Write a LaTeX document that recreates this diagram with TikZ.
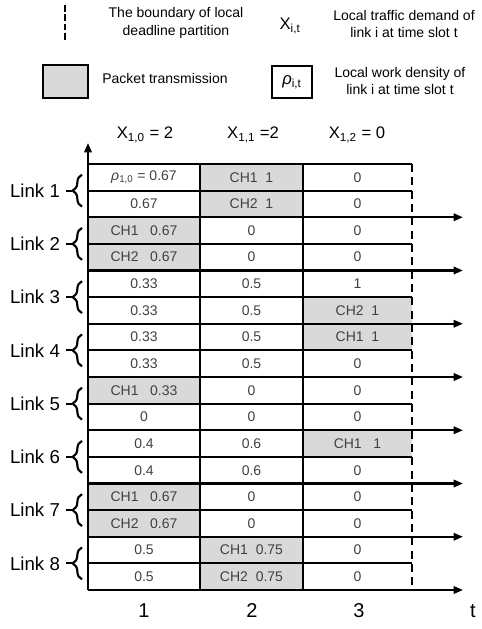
\documentclass[tikz,border=0pt]{standalone}
\usepackage{fontspec}
\setmainfont{Liberation Sans}
\usetikzlibrary{arrows.meta,decorations.pathreplacing}

\definecolor{cellgray}{HTML}{D9D9D9}
\definecolor{celltextcol}{HTML}{404040}

\tikzset{
  grid line/.style={line width=1.6pt},
  boundary/.style={line width=1.8pt, dash pattern=on 6pt off 4pt},
  celltext/.style={font=\fontsize{10.5}{12}\selectfont, text=celltextcol, inner sep=0pt},
  linklabel/.style={font=\fontsize{14}{16}\selectfont, inner sep=0pt},
  headlabel/.style={font=\fontsize{12.5}{14}\selectfont, inner sep=0pt},
  legendtext/.style={font=\fontsize{10.5}{13}\selectfont, align=center, inner sep=0pt},
  linkbrace/.style={decorate, decoration={brace, amplitude=7pt}, line width=1.6pt},
}

\begin{document}
\begin{tikzpicture}[x=0.75pt,y=-0.75pt,>={Triangle[length=7pt,width=5.5pt]}]
    \useasboundingbox (0,0) rectangle (482,629);

    % Legend
    \draw[boundary, line width=1.6pt, dash pattern=on 5pt off 2pt] (65,5) -- (65,42);
    \node[legendtext] (legbound) at (176,23) {The boundary of local\\deadline partition};
    \node[headlabel] (legx) at (290,26) {X\textsubscript{i,t}};
    \node[legendtext] (legxtext) at (404,24) {Local traffic demand of\\link i at time slot t};
    \draw[line width=1.5pt, fill=cellgray] (43,65) rectangle (88,98);
    \node[legendtext] (legpacket) at (165,78) {Packet transmission};
    \draw[line width=1.5pt] (272,66) rectangle (312,98);
    \node[headlabel] (legrho) at (292,82) {{\itshape ρ}\textsubscript{i,t}};
    \node[legendtext] (legrhotext) at (400,81) {Local work density of\\link i at time slot t};

    % Time slot demand labels
    \node[headlabel] (dem0) at (145,135) {X\textsubscript{1,0} = 2};
    \node[headlabel] (dem1) at (253,135) {X\textsubscript{1,1} =2};
    \node[headlabel] (dem2) at (357,135) {X\textsubscript{1,2} = 0};

    % Shaded cells (row/column)
    \foreach \r/\c in {0/1,1/1,2/0,3/0,5/2,6/2,8/0,10/2,12/0,13/0,14/1,15/1} {
        \pgfmathsetmacro{\xa}{{88,200,303}[\c]}
        \pgfmathsetmacro{\xb}{{200,303,412}[\c]}
        \fill[cellgray] (\xa,164+26.625*\r) rectangle (\xb,164+26.625*\r+26.625);
    }

    % Grid
    \coordinate (origin) at (88,590);
    \coordinate (ytop) at (88,143);
    \coordinate (tend) at (463,590);
    \draw[grid line] (88,164) -- (412,164);
    \foreach \k in {1,...,15} {
        \pgfmathtruncatemacro{\odd}{mod(\k,2)}
        \ifnum\odd=1
            \draw[grid line] (88,164+26.625*\k) -- (412,164+26.625*\k);
        \else
            \draw[grid line,->] (88,164+26.625*\k) -- (463,164+26.625*\k);
        \fi
    }
    \draw[grid line] (200,164) -- (200,590);
    \draw[grid line] (303,164) -- (303,590);
    \draw[boundary] (412,164) -- (412,590);
    \draw[grid line,->] (origin) -- (tend);
    \draw[grid line,->] (origin) -- (ytop);

    % Cell values
    \foreach \r/\ca/\cb/\cc in {
        0/{{\itshape ρ}\textsubscript{1,0} = 0.67}/CH1\ \ 1/0,
        1/0.67/CH2\ \ 1/0,
        2/CH1\ \ \ 0.67/0/0,
        3/CH2\ \ \ 0.67/0/0,
        4/0.33/0.5/1,
        5/0.33/0.5/CH2\ \ 1,
        6/0.33/0.5/CH1\ \ 1,
        7/0.33/0.5/0,
        8/CH1\ \ \ 0.33/0/0,
        9/0/0/0,
        10/0.4/0.6/CH1\ \ \ 1,
        11/0.4/0.6/0,
        12/CH1\ \ \ 0.67/0/0,
        13/CH2\ \ \ 0.67/0/0,
        14/0.5/CH1\ \ 0.75/0,
        15/0.5/CH2\ \ 0.75/0} {
        \node[celltext] (cell-\r-1) at (144,177.3+26.625*\r) {\ca};
        \node[celltext] (cell-\r-2) at (251.5,177.3+26.625*\r) {\cb};
        \node[celltext] (cell-\r-3) at (357.5,177.3+26.625*\r) {\cc};
    }

    % Link labels with braces
    \foreach \i in {1,...,8} {
        \pgfmathsetmacro{\yc}{164+53.25*(\i-1)+26.625}
        \node[linklabel] (link\i) at (35,\yc) {Link \i};
        \draw[linkbrace] (82,\yc+16) -- (82,\yc-16);
        \draw[line width=1.6pt] (72,\yc) -- (66,\yc);
    }

    % Slot numbers
    \node[headlabel, font=\fontsize{15}{17}\selectfont] (slot1) at (144,611) {1};
    \node[headlabel, font=\fontsize{15}{17}\selectfont] (slot2) at (252,611) {2};
    \node[headlabel, font=\fontsize{15}{17}\selectfont] (slot3) at (359,611) {3};
    \node[headlabel, font=\fontsize{15}{17}\selectfont] (tlabel) at (473,611) {t};
\end{tikzpicture}
\end{document}
